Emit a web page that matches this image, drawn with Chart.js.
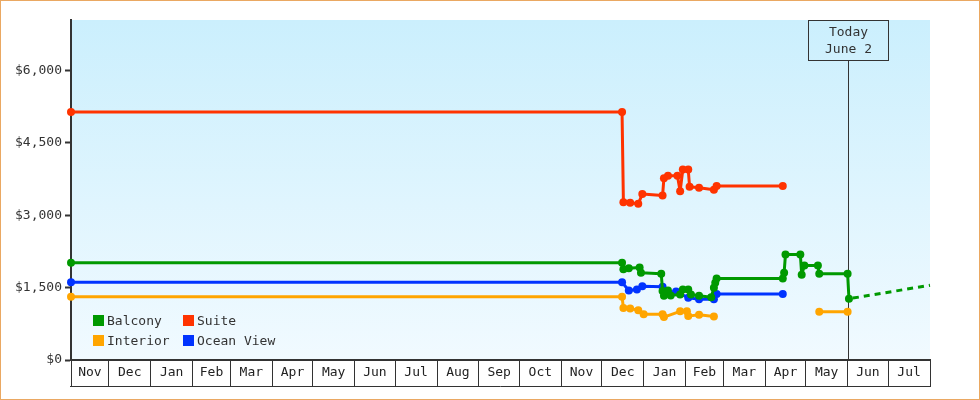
<!DOCTYPE html>
<html>
<head>
<meta charset="utf-8">
<title>Cabin price history</title>
<script src="https://cdn.jsdelivr.net/npm/chart.js@4"></script>
<style>
  body { margin: 0; background: #fff; font-family: 'DejaVu Sans Mono', monospace; }
  #wrap { position: relative; width: 980px; height: 400px; }
  #frame { position: absolute; left: 0; top: 0; width: 980px; height: 400px; border: 1px solid #eaa862; box-sizing: border-box; pointer-events: none; }
  .legend { position: absolute; left: 93px; top: 313px; display: grid; grid-template-columns: 90px 110px; row-gap: 6px; font-size: 13px; color: #333; }
  .legend span { display: flex; align-items: center; height: 14px; white-space: nowrap; }
  .legend i { width: 11px; height: 11px; margin-right: 3px; display: inline-block; }
</style>
</head>
<body>
<div id="wrap">
  <canvas id="priceChart" width="980" height="400"></canvas>
  <div class="legend">
    <span><i style="background:#009900"></i>Balcony</span>
    <span><i style="background:#ff3300"></i>Suite</span>
    <span><i style="background:#ffa500"></i>Interior</span>
    <span><i style="background:#0033ff"></i>Ocean View</span>
  </div>
  <div id="frame"></div>
</div>
<script>
// axis range and month cells
const xMin = '2021-11-03';
const xMax = '2023-08-01';
const monthStarts = ['2021-11-01','2021-12-01','2022-01-01','2022-02-01','2022-03-01','2022-04-01','2022-05-01',
  '2022-06-01','2022-07-01','2022-08-01','2022-09-01','2022-10-01','2022-11-01','2022-12-01','2023-01-01',
  '2023-02-01','2023-03-01','2023-04-01','2023-05-01','2023-06-01','2023-07-01','2023-08-01'];
const monthLabels = ['Nov','Dec','Jan','Feb','Mar','Apr','May','Jun','Jul','Aug','Sep','Oct',
  'Nov','Dec','Jan','Feb','Mar','Apr','May','Jun','Jul'];
const yTicks = [0, 1500, 3000, 4500, 6000];
const todayDate = '2023-06-02';
const todayText = ['Today', 'June 2'];

// price series
const balconyDates = ['2021-11-03','2022-12-16','2022-12-17','2022-12-21','2022-12-29','2022-12-30','2023-01-14',
  '2023-01-15','2023-01-16','2023-01-19','2023-01-21','2023-01-28','2023-01-30','2023-02-03','2023-02-05',
  '2023-02-11','2023-02-20','2023-02-22','2023-02-23','2023-02-24','2023-04-14','2023-04-15','2023-04-16',
  '2023-04-27','2023-04-28','2023-04-30','2023-05-10','2023-05-11','2023-06-01','2023-06-02'];
const balconyPrices = [2015,2015,1880,1900,1920,1810,1790,
  1430,1330,1440,1340,1360,1460,1460,1360,
  1330,1300,1500,1600,1690,1690,1810,2190,
  2190,1770,1960,1960,1790,1790,1270];

const suiteDates = ['2021-11-03','2022-12-16','2022-12-17','2022-12-22','2022-12-28','2022-12-31','2023-01-15',
  '2023-01-16','2023-01-19','2023-01-26','2023-01-28','2023-01-30','2023-02-03','2023-02-04','2023-02-11',
  '2023-02-22','2023-02-24','2023-04-14'];
const suitePrices = [5140,5140,3270,3260,3240,3440,3410,
  3770,3820,3820,3500,3950,3950,3590,3570,
  3530,3610,3610];

const interiorDates = ['2021-11-03','2022-12-16','2022-12-17','2022-12-22','2022-12-28','2023-01-01','2023-01-15',
  '2023-01-16','2023-01-28','2023-02-02','2023-02-03','2023-02-11','2023-02-22','2023-03-20','2023-05-11','2023-06-01'];
const interiorPrices = [1310,1310,1080,1070,1030,950,950,
  890,1010,1010,910,940,900,null,1000,1000];

const oceanDates = ['2021-11-03','2022-12-16','2022-12-21','2022-12-27','2022-12-31','2023-01-15','2023-01-17',
  '2023-01-25','2023-02-03','2023-02-11','2023-02-22','2023-02-24','2023-04-14'];
const oceanPrices = [1610,1610,1440,1460,1530,1520,1400,
  1420,1290,1260,1260,1370,1370];

const forecastDates = ['2023-06-02','2023-08-01'];
const forecastPrices = [1270, 1550];

const FONT = "'DejaVu Sans Mono', monospace";

function day(s) {
  const p = s.split('-').map(Number);
  return Date.UTC(p[0], p[1] - 1, p[2]) / 86400000;
}
function pts(dates, prices) {
  return dates.map((d, i) => ({ x: day(d), y: prices[i] }));
}
function series(label, dates, prices, color) {
  return {
    label, data: pts(dates, prices),
    borderColor: color, backgroundColor: color,
    borderWidth: 3, borderJoinStyle: 'round', pointRadius: 4, pointBorderWidth: 0,
    tension: 0, spanGaps: false, clip: false
  };
}

// month cell edges + centres for the x axis
const lo = day(xMin), hi = day(xMax);
const xTickList = [{ value: lo, edge: true }];
for (let i = 0; i < monthLabels.length; i++) {
  const a = Math.max(day(monthStarts[i]), lo);
  const b = Math.min(day(monthStarts[i + 1]), hi);
  xTickList.push({ value: (a + b) / 2, name: monthLabels[i] });
  xTickList.push({ value: b, edge: true });
}

const decor = {
  id: 'decor',
  beforeDraw(chart) {
    const { ctx, chartArea: a } = chart;
    const g = ctx.createLinearGradient(0, a.top, 0, a.bottom);
    g.addColorStop(0, '#cbeffd');
    g.addColorStop(1, '#f1faff');
    ctx.save();
    ctx.fillStyle = g;
    ctx.fillRect(a.left, a.top, a.right - a.left, a.bottom - a.top);
    ctx.restore();
  },
  beforeDatasetsDraw(chart) {
    const { ctx, chartArea: a } = chart;
    const x = Math.round(chart.scales.x.getPixelForValue(day(todayDate))) - 0.5;
    ctx.save();
    ctx.strokeStyle = '#333';
    ctx.lineWidth = 1;
    ctx.strokeRect(x - 40, a.top + 0.5, 80, 40);
    ctx.beginPath();
    ctx.moveTo(x, a.top + 40.5);
    ctx.lineTo(x, a.bottom);
    ctx.stroke();
    ctx.fillStyle = '#333';
    ctx.font = '13px ' + FONT;
    ctx.textAlign = 'center';
    ctx.textBaseline = 'middle';
    ctx.fillText(todayText[0], x, a.top + 13);
    ctx.fillText(todayText[1], x, a.top + 30);
    ctx.restore();
  },
  afterDraw(chart) {
    const { ctx } = chart;
    const xs = chart.scales.x;
    const y = xs.top + 26.5;
    ctx.save();
    ctx.strokeStyle = '#333';
    ctx.lineWidth = 1;
    ctx.beginPath();
    ctx.moveTo(xs.getPixelForValue(lo) - 1, y);
    ctx.lineTo(xs.getPixelForValue(hi) + 1, y);
    ctx.stroke();
    ctx.restore();
  }
};

new Chart(document.getElementById('priceChart'), {
  type: 'line',
  data: {
    datasets: [
      series('Balcony', balconyDates, balconyPrices, '#009900'),
      series('Suite', suiteDates, suitePrices, '#ff3300'),
      series('Interior', interiorDates, interiorPrices, '#ffa500'),
      series('Ocean View', oceanDates, oceanPrices, '#0033ff'),
      Object.assign(series('Balcony forecast', forecastDates, forecastPrices, '#009900'),
        { pointRadius: 0, borderDash: [6, 5], borderDashOffset: -4 })
    ]
  },
  options: {
    responsive: false,
    animation: false,
    events: [],
    layout: { padding: { left: 0, top: 20, right: 50, bottom: 0 } },
    plugins: { legend: { display: false }, tooltip: { enabled: false } },
    scales: {
      x: {
        type: 'linear', min: lo, max: hi,
        afterBuildTicks: s => { s.ticks = xTickList.map(t => Object.assign({}, t)); },
        afterFit: s => { s.height = 40; },
        grid: {
          drawOnChartArea: false, tickLength: 26, tickWidth: 1,
          tickColor: c => (c.tick && c.tick.edge) ? '#333' : 'rgba(0,0,0,0)'
        },
        border: { color: '#333', width: 2 },
        ticks: {
          autoSkip: false, maxRotation: 0, minRotation: 0, padding: -21,
          color: '#222', font: { family: FONT, size: 13 },
          callback: (v, i, ticks) => ticks[i].name || ''
        }
      },
      y: {
        min: 0, max: 7050,
        afterBuildTicks: s => { s.ticks = yTicks.map(v => ({ value: v })); },
        afterFit: s => { s.width = 71; },
        grid: { drawOnChartArea: false, tickLength: 6, tickWidth: 2, tickColor: '#333' },
        border: { color: '#333', width: 2 },
        ticks: {
          padding: 3, color: '#333', font: { family: FONT, size: 13 },
          callback: v => '$' + v.toLocaleString('en-US')
        }
      }
    }
  },
  plugins: [decor]
});
</script>
</body>
</html>
